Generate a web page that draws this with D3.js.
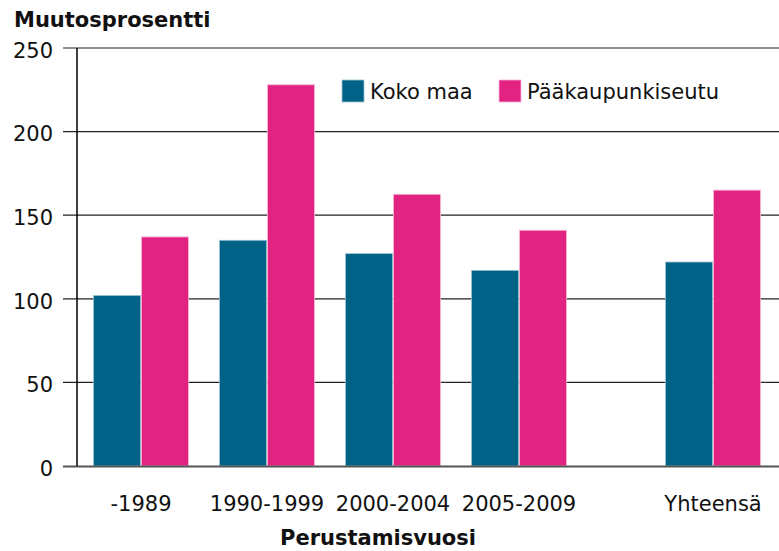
<!DOCTYPE html>
<head>
<meta charset="utf-8">
</head>
<style>
body { margin: 0; background: #fff; }
text { font-family: "DejaVu Sans", Verdana, sans-serif; fill: #111; }
.bar-koko { fill: #006286; stroke: #9cc3d3; stroke-width: 0.8; }
.bar-paak { fill: #e22382; stroke: #f6b6d6; stroke-width: 0.8; }
.grid line { stroke: #222; stroke-width: 1.2; }
</style>
<body>
<svg id="chart" width="779" height="551"></svg>

<script src="https://d3js.org/d3.v7.min.js"></script>
<script>

// data
var categories = ["-1989", "1990-1999", "2000-2004", "2005-2009", "Yhteensä"];
var kokoMaa = [102, 135, 127, 117, 122];
var paakaupunkiseutu = [137, 228, 162.5, 141, 165];
var seriesNames = ["Koko maa", "Pääkaupunkiseutu"];
var yTicks = [0, 50, 100, 150, 200, 250];

var svg = d3.select("#chart"),
    margin = {top: 48, right: 0, bottom: 85, left: 77},
    width = +svg.attr("width") - margin.left - margin.right,
    height = +svg.attr("height") - margin.top - margin.bottom;

var y = d3.scaleLinear().domain([0, 250]).range([height, 0]);

// slot index -> group centre; the total column sits after a small gap
var slotOf = function(i) { return i < 4 ? i : i + 0.54; };
var xSlot = d3.scaleLinear().domain([0, 1]).range([64, 190]);
var groupW = 95;
var xInner = d3.scaleBand().domain(seriesNames).range([0, groupW]).paddingInner(0.02);

var g = svg.append("g")
    .attr("transform", "translate(" + margin.left + "," + margin.top + ")");

// gridlines with tick marks
g.append("g")
    .attr("class", "grid")
    .selectAll("line")
    .data(yTicks.filter(function(d) { return d > 0; }))
    .enter().append("line")
      .attr("x1", -14)
      .attr("x2", width)
      .attr("y1", function(d) { return y(d); })
      .attr("y2", function(d) { return y(d); });

// y labels
g.selectAll(".ylab")
    .data(yTicks)
    .enter().append("text")
      .attr("class", "ylab")
      .attr("x", -24)
      .attr("y", function(d) { return y(d); })
      .attr("dy", "0.47em")
      .attr("text-anchor", "end")
      .style("font-size", "21px")
      .text(function(d) { return d; });

// bars
var data = categories.map(function(c, i) {
  return {cat: c, i: i, vals: [kokoMaa[i], paakaupunkiseutu[i]]};
});

var groups = g.selectAll(".grp")
    .data(data)
    .enter().append("g")
      .attr("class", "grp")
      .attr("transform", function(d) { return "translate(" + (xSlot(slotOf(d.i)) - groupW / 2) + ",0)"; });

groups.selectAll("rect")
    .data(function(d) { return d.vals.map(function(v, k) { return {name: seriesNames[k], v: v}; }); })
    .enter().append("rect")
      .attr("class", function(d) { return d.name === "Koko maa" ? "bar-koko" : "bar-paak"; })
      .attr("x", function(d) { return xInner(d.name); })
      .attr("y", function(d) { return y(d.v); })
      .attr("width", xInner.bandwidth())
      .attr("height", function(d) { return height - y(d.v); });

// x axis line and zero tick
g.append("line")
    .attr("x1", -14).attr("x2", width)
    .attr("y1", height + 0.5).attr("y2", height + 0.5)
    .attr("stroke", "#555").attr("stroke-width", 2);

// y axis line
g.append("line")
    .attr("x1", 0).attr("x2", 0)
    .attr("y1", 0).attr("y2", height)
    .attr("stroke", "#000").attr("stroke-width", 1.5);

// x labels
groups.append("text")
    .attr("x", groupW / 2)
    .attr("y", height + 45)
    .attr("text-anchor", "middle")
    .style("font-size", "21px")
    .text(function(d) { return d.cat; });

// titles
svg.append("text")
    .attr("x", 14)
    .attr("y", 27)
    .style("font-size", "21px")
    .style("font-weight", "bold")
    .text("Muutosprosentti");

svg.append("text")
    .attr("x", 378)
    .attr("y", 545)
    .attr("text-anchor", "middle")
    .style("font-size", "21px")
    .style("font-weight", "bold")
    .text("Perustamisvuosi");

// legend
var legendX = [342, 499];
var legend = svg.selectAll(".legend")
    .data(seriesNames)
    .enter().append("g")
      .attr("class", "legend")
      .attr("transform", function(d, i) { return "translate(" + legendX[i] + ",80)"; });

legend.append("rect")
    .attr("width", 22)
    .attr("height", 22)
    .attr("class", function(d) { return d === "Koko maa" ? "bar-koko" : "bar-paak"; });

legend.append("text")
    .attr("x", 28)
    .attr("y", 19)
    .style("font-size", "21px")
    .text(function(d) { return d; });

</script>
</body>
